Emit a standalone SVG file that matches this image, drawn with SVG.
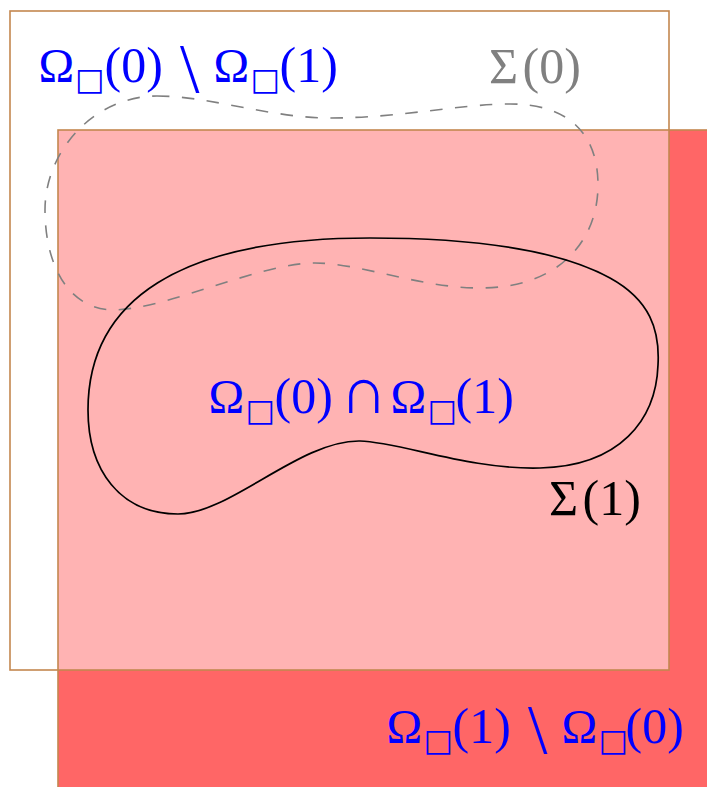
<svg xmlns="http://www.w3.org/2000/svg" width="707" height="787" viewBox="0 0 707 787">
<style>
  .lbl{font-family:"Liberation Serif","DejaVu Serif",serif;font-size:50px;}
  .blue{fill:#0000ff}
  .gray{fill:#808080}
  .blk{fill:#000000}
  .om{font-size:48px}
  .sq{font-family:"DejaVu Sans",sans-serif;font-size:31px}
  .bs{font-size:70px}
  .cap{font-size:66px}
  .border{fill:none;stroke:#c4874f;stroke-width:1.6}
  .sigma0{fill:none;stroke:#808080;stroke-width:1.6;stroke-dasharray:12.5 12.5}
  .sigma1{fill:none;stroke:#000000;stroke-width:1.7}
</style>
<rect x="0" y="0" width="707" height="787" fill="#ffffff"/>
<g id="square0">
  <rect x="10" y="11" width="659" height="659" fill="#ffffff"/>
</g>
<g id="square1">
  <rect x="58" y="130" width="659" height="659" fill="#ff6666"/>
</g>
<g id="intersection">
  <rect x="58" y="130" width="611" height="540" fill="#ffb3b3"/>
</g>
<g id="borders">
  <rect class="border" x="58" y="130" width="659" height="659"/>
  <rect class="border" x="10" y="11" width="659" height="659"/>
</g>
<g id="curves">
  <path id="sigma0" class="sigma0" d="M 157,96 C 210,96 270,118 330,118 C 400,118 460,104 510,104 C 570,104 598,135 598,185 C 598,240 560,288 480,288 C 420,288 360,263 315,263 C 260,263 170,308 115,310 C 65,310 45,260 45,210 C 45,150 95,96 157,96 Z"/>
  <path id="sigma1" class="sigma1" d="M 370,238 C 450,238 550,245 610,278 C 650,300 660,330 658,365 C 656,420 620,466 540,468 C 470,470 400,442 360,441 C 300,440 230,514 178,514 C 120,514 88,470 88,410 C 88,300 180,238 370,238 Z"/>
</g>
<g id="label-omega0-minus-omega1">
  <text class="lbl blue"><tspan class="om" x="38.5" y="82">Ω</tspan><tspan class="sq" x="75" y="90">□</tspan><tspan x="104.6" y="82">(0)</tspan><tspan class="bs" x="180" y="92">\</tspan><tspan class="om" x="213.5" y="82">Ω</tspan><tspan class="sq" x="250.5" y="90">□</tspan><tspan x="279.6" y="82">(1)</tspan></text>
</g>
<g id="label-sigma0">
  <text class="lbl gray"><tspan x="489" y="83">Σ</tspan><tspan x="522.6" y="83">(0)</tspan></text>
</g>
<g id="label-intersection">
  <text class="lbl blue"><tspan class="om" x="208.5" y="413">Ω</tspan><tspan class="sq" x="245.5" y="421">□</tspan><tspan x="274.6" y="413">(0)</tspan><tspan class="cap" x="340" y="413">∩</tspan><tspan class="om" x="390.5" y="413">Ω</tspan><tspan class="sq" x="427.5" y="421">□</tspan><tspan x="455.6" y="413">(1)</tspan></text>
</g>
<g id="label-sigma1">
  <text class="lbl blk"><tspan x="549" y="515">Σ</tspan><tspan x="582.6" y="515">(1)</tspan></text>
</g>
<g id="label-omega1-minus-omega0">
  <text class="lbl blue"><tspan class="om" x="386.5" y="743">Ω</tspan><tspan class="sq" x="423.5" y="751">□</tspan><tspan x="452.6" y="743">(1)</tspan><tspan class="bs" x="528" y="753">\</tspan><tspan class="om" x="561.5" y="743">Ω</tspan><tspan class="sq" x="598.5" y="751">□</tspan><tspan x="625.6" y="743">(0)</tspan></text>
</g>
</svg>
